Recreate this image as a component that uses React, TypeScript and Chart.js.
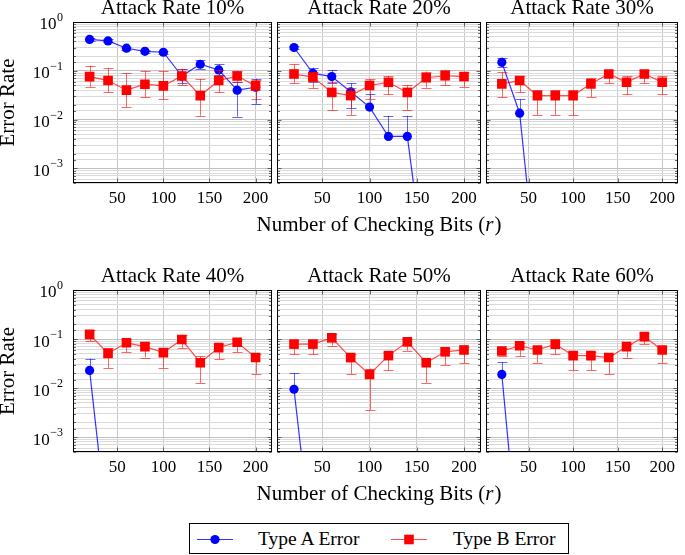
import React, { useEffect, useRef } from 'react';
import { Chart, registerables } from 'chart.js';

Chart.register(...registerables);

// ---------------- data ----------------
const checkingBits = [20, 40, 60, 80, 100, 120, 140, 160, 180, 200];
const panelTitles = ['Attack Rate 10%', 'Attack Rate 20%', 'Attack Rate 30%', 'Attack Rate 40%', 'Attack Rate 50%', 'Attack Rate 60%'];
const xTickValues = [50, 100, 150, 200];
const yLabelExponents = [0, -1, -2, -3];
const seriesNames = ['Type A Error', 'Type B Error'];

// Type A error (blue), with lower / upper error bounds
const typeA10 = [0.44, 0.41, 0.29, 0.25, 0.24, 0.078, 0.136, 0.104, 0.040, 0.046];
const typeA10Lo = [0.41, 0.38, 0.27, 0.23, 0.22, 0.055, 0.11, 0.08, 0.0115, 0.021];
const typeA10Hi = [0.47, 0.44, 0.31, 0.27, 0.26, 0.11, 0.166, 0.136, 0.06, 0.069];

const typeA20 = [0.30, 0.089, 0.076, 0.037, 0.018, 0.0045, 0.0045, 5e-6, 5e-6, 5e-6];
const typeA20Lo = [0.28, 0.06, 0.055, 0.017, null, null, null, null, null, null];
const typeA20Hi = [0.32, 0.116, 0.104, 0.055, 0.033, 0.0119, 0.0119, null, null, null];

const typeA30 = [0.149, 0.0135, 4e-6, 4e-6, 4e-6, 4e-6, 4e-6, 4e-6, 4e-6, 4e-6];
const typeA30Lo = [0.12, null, null, null, null, null, null, null, null, null];
const typeA30Hi = [0.186, 0.026, null, null, null, null, null, null, null, null];

const typeA40 = [0.023, 1e-5, 1e-5, 1e-5, 1e-5, 1e-5, 1e-5, 1e-5, 1e-5, 1e-5];
const typeA40Lo = [null, null, null, null, null, null, null, null, null, null];
const typeA40Hi = [0.040, null, null, null, null, null, null, null, null, null];

const typeA50 = [0.0095, 4e-6, 4e-6, 4e-6, 4e-6, 4e-6, 4e-6, 4e-6, 4e-6, 4e-6];
const typeA50Lo = [null, null, null, null, null, null, null, null, null, null];
const typeA50Hi = [0.020, null, null, null, null, null, null, null, null, null];

const typeA60 = [0.019, 2.5e-6, 2.5e-6, 2.5e-6, 2.5e-6, 2.5e-6, 2.5e-6, 2.5e-6, 2.5e-6, 2.5e-6];
const typeA60Lo = [null, null, null, null, null, null, null, null, null, null];
const typeA60Hi = [0.034, null, null, null, null, null, null, null, null, null];

// Type B error (red)
const typeB10 = [0.076, 0.063, 0.040, 0.053, 0.049, 0.078, 0.031, 0.063, 0.078, 0.049];
const typeB10Lo = [0.047, 0.036, 0.018, 0.029, 0.026, 0.051, 0.012, 0.036, 0.06, 0.026];
const typeB10Hi = [0.127, 0.114, 0.089, 0.10, 0.098, 0.109, 0.068, 0.104, 0.1, 0.065];

const typeB20 = [0.086, 0.074, 0.036, 0.031, 0.050, 0.058, 0.036, 0.072, 0.079, 0.076];
const typeB20Lo = [0.055, 0.044, 0.0158, 0.0124, 0.026, 0.033, 0.0158, 0.045, 0.051, 0.047];
const typeB20Hi = [0.136, 0.096, 0.06, 0.044, 0.067, 0.078, 0.051, 0.096, 0.104, 0.096];

const typeB30 = [0.054, 0.063, 0.031, 0.031, 0.031, 0.054, 0.086, 0.058, 0.086, 0.058];
const typeB30Lo = [0.029, 0.036, 0.0124, 0.0124, 0.0124, 0.029, 0.055, 0.033, 0.055, 0.033];
const typeB30Hi = [0.093, 0.078, 0.04, 0.04, 0.04, 0.07, 0.104, 0.077, 0.104, 0.077];

const typeB40 = [0.125, 0.051, 0.084, 0.070, 0.053, 0.098, 0.033, 0.067, 0.086, 0.042];
const typeB40Lo = [0.091, 0.026, 0.054, 0.042, 0.026, 0.065, 0.0128, 0.039, 0.054, 0.0196];
const typeB40Hi = [0.15, 0.065, 0.1, 0.085, 0.065, 0.12, 0.045, 0.08, 0.1, 0.05];

const typeB50 = [0.079, 0.079, 0.106, 0.042, 0.019, 0.046, 0.088, 0.033, 0.055, 0.060];
const typeB50Lo = [0.049, 0.049, 0.073, 0.0196, 0.0036, 0.023, 0.058, 0.0128, 0.030, 0.033];
const typeB50Hi = [0.095, 0.095, 0.125, 0.05, 0.025, 0.055, 0.1, 0.04, 0.065, 0.07];

const typeB60 = [0.057, 0.073, 0.060, 0.079, 0.046, 0.046, 0.042, 0.070, 0.112, 0.060];
const typeB60Lo = [0.045, 0.045, 0.033, 0.049, 0.023, 0.023, 0.0196, 0.042, 0.078, 0.033];
const typeB60Hi = [0.065, 0.085, 0.07, 0.09, 0.055, 0.055, 0.05, 0.08, 0.13, 0.07];

const panelData = [
  { a: typeA10, aLo: typeA10Lo, aHi: typeA10Hi, b: typeB10, bLo: typeB10Lo, bHi: typeB10Hi },
  { a: typeA20, aLo: typeA20Lo, aHi: typeA20Hi, b: typeB20, bLo: typeB20Lo, bHi: typeB20Hi },
  { a: typeA30, aLo: typeA30Lo, aHi: typeA30Hi, b: typeB30, bLo: typeB30Lo, bHi: typeB30Hi },
  { a: typeA40, aLo: typeA40Lo, aHi: typeA40Hi, b: typeB40, bLo: typeB40Lo, bHi: typeB40Hi },
  { a: typeA50, aLo: typeA50Lo, aHi: typeA50Hi, b: typeB50, bLo: typeB50Lo, bHi: typeB50Hi },
  { a: typeA60, aLo: typeA60Lo, aHi: typeA60Hi, b: typeB60, bLo: typeB60Lo, bHi: typeB60Hi },
];

// ---------------- layout / style ----------------
const COL_LEFT = [73, 277, 481];
const COL_RIGHT = [277, 481, 684];
const ROW_TOP = [22, 290];
const ROW_BOTTOM = [183, 452];
const TOP_SPACE = 22;
const BOTTOM_SPACE = 60;
const Y_AXIS_W = 73;
const MID_EXTRA = 80;
const X_MIN = 2;
const X_MAX = 218;
const Y_MIN = 5e-4;
const Y_MAX = 1;

const SERIF = '"Liberation Serif", "Times New Roman", serif';
const BLUE = '#0000ff';
const RED = '#ff0000';
const BLUE_LINE = 'rgba(0,0,255,0.8)';
const RED_LINE = 'rgba(255,0,0,0.7)';
const BLUE_ERR = 'rgba(0,0,255,0.6)';
const RED_ERR = 'rgba(255,0,0,0.6)';

const isPow10 = (v: number) => {
  const l = Math.log10(v);
  return Math.abs(l - Math.round(l)) < 1e-6;
};

const errorBarPlugin = {
  id: 'errorBars',
  beforeDatasetDraw(chart: any, args: any) {
    const ds = chart.data.datasets[args.index];
    if (!ds.errLow) return;
    const { ctx, chartArea } = chart;
    const xs = chart.scales.x;
    const ys = chart.scales.y;
    ctx.save();
    ctx.beginPath();
    ctx.rect(chartArea.left, chartArea.top, chartArea.right - chartArea.left, chartArea.bottom - chartArea.top);
    ctx.clip();
    ctx.strokeStyle = ds.errColor;
    ctx.lineWidth = 1;
    const capHalf = 5;
    ds.data.forEach((p: any, i: number) => {
      const lo = ds.errLow[i];
      const hi = ds.errHigh[i];
      if (lo == null && hi == null) return;
      const x = Math.round(xs.getPixelForValue(p.x)) + 0.5;
      const yv = ys.getPixelForValue(p.y);
      const yl = lo != null ? ys.getPixelForValue(lo) : yv;
      const yh = hi != null ? ys.getPixelForValue(hi) : yv;
      ctx.beginPath();
      ctx.moveTo(x, yl);
      ctx.lineTo(x, yh);
      if (lo != null) {
        const y = Math.round(yl) + 0.5;
        ctx.moveTo(x - capHalf, y);
        ctx.lineTo(x + capHalf, y);
      }
      if (hi != null) {
        const y = Math.round(yh) + 0.5;
        ctx.moveTo(x - capHalf, y);
        ctx.lineTo(x + capHalf, y);
      }
      ctx.stroke();
    });
    ctx.restore();
  },
};

const framePlugin = {
  id: 'frame',
  afterDatasetsDraw(chart: any) {
    const { ctx, chartArea } = chart;
    const ys = chart.scales.y;
    const xs = chart.scales.x;
    const l = Math.round(chartArea.left) + 0.5;
    const r = Math.round(chartArea.right) - 0.5;
    const t = Math.round(chartArea.top) + 0.5;
    const b = Math.round(chartArea.bottom) - 0.5;
    ctx.save();
    ctx.strokeStyle = '#444';
    ctx.lineWidth = 0.8;
    ctx.beginPath();
    ys.ticks.forEach((tk: any) => {
      const y = Math.round(ys.getPixelForValue(tk.value)) + 0.5;
      const len = isPow10(tk.value) ? 4 : 2.5;
      ctx.moveTo(l, y);
      ctx.lineTo(l + len, y);
      ctx.moveTo(r, y);
      ctx.lineTo(r - len, y);
    });
    xs.ticks.forEach((tk: any) => {
      const x = Math.round(xs.getPixelForValue(tk.value)) + 0.5;
      ctx.moveTo(x, b);
      ctx.lineTo(x, b - 4);
      ctx.moveTo(x, t);
      ctx.lineTo(x, t + 4);
    });
    ctx.stroke();
    ctx.strokeStyle = '#000';
    ctx.lineWidth = 1;
    ctx.strokeRect(l, t, r - l, b - t);
    ctx.restore();
  },
};

const textPlugin = {
  id: 'panelText',
  afterDraw(chart: any) {
    const opts = chart.options.plugins.panelText || {};
    const { ctx, chartArea } = chart;
    const cx = (chartArea.left + chartArea.right) / 2;
    ctx.save();
    ctx.fillStyle = '#000';
    ctx.textBaseline = 'middle';

    // panel title
    ctx.font = `21px ${SERIF}`;
    ctx.textAlign = 'center';
    ctx.fillText(opts.title, cx, chartArea.top - 14);

    // y tick labels (10^k)
    if (opts.yLabels) {
      const ys = chart.scales.y;
      const right = chartArea.left - 10;
      yLabelExponents.forEach((e) => {
        const y = ys.getPixelForValue(Math.pow(10, e));
        const expText = e === 0 ? '0' : '\u2212' + String(-e);
        ctx.font = `12px ${SERIF}`;
        const ew = ctx.measureText(expText).width;
        ctx.textAlign = 'left';
        ctx.fillText(expText, right - ew, y - 4);
        ctx.font = `17px ${SERIF}`;
        ctx.textAlign = 'right';
        ctx.fillText('10', right - ew - 0.5, y + 3);
      });
    }

    // shared x axis label
    if (opts.xLabel) {
      const y = chartArea.bottom + 42;
      const p1 = 'Number of Checking Bits (';
      const p2 = 'r';
      const p3 = ')';
      const normal = `21px ${SERIF}`;
      const italic = `italic 21px ${SERIF}`;
      ctx.textAlign = 'left';
      ctx.font = normal;
      const w1 = ctx.measureText(p1).width;
      const w3 = ctx.measureText(p3).width;
      ctx.font = italic;
      const w2 = ctx.measureText(p2).width;
      let x = cx - (w1 + w2 + w3 + 1) / 2;
      ctx.font = normal;
      ctx.fillText(p1, x, y);
      x += w1;
      ctx.font = italic;
      ctx.fillText(p2, x, y);
      x += w2 + 1;
      ctx.font = normal;
      ctx.fillText(p3, x, y);
    }
    ctx.restore();
  },
};

function Panel({ index }: { index: number }) {
  const ref = useRef<HTMLCanvasElement>(null);
  const col = index % 3;
  const row = Math.floor(index / 3);
  const extra = col === 1 ? MID_EXTRA : 0;
  const padL = (col === 0 ? 0 : 2) + extra;
  const padR = (col === 2 ? 1 : 2) + extra;
  const yW = col === 0 ? Y_AXIS_W : 0;
  const left = COL_LEFT[col] - yW - padL;
  const width = padL + yW + (COL_RIGHT[col] - COL_LEFT[col]) + padR;
  const top = ROW_TOP[row] - TOP_SPACE;
  const height = TOP_SPACE + (ROW_BOTTOM[row] - ROW_TOP[row]) + BOTTOM_SPACE;

  useEffect(() => {
    if (!ref.current) return;
    const d = panelData[index];
    const chart = new Chart(ref.current, {
      type: 'line',
      data: {
        datasets: [
          {
            label: seriesNames[1],
            data: checkingBits.map((x, i) => ({ x, y: d.b[i] })),
            borderColor: RED_LINE,
            borderWidth: 1.2,
            backgroundColor: RED,
            pointBackgroundColor: RED,
            pointBorderColor: RED,
            pointBorderWidth: 0,
            pointStyle: 'rect',
            pointRadius: 6.8,
            tension: 0,
            fill: false,
            errLow: d.bLo,
            errHigh: d.bHi,
            errColor: RED_ERR,
          } as any,
          {
            label: seriesNames[0],
            data: checkingBits.map((x, i) => ({ x, y: d.a[i] })),
            borderColor: BLUE_LINE,
            borderWidth: 1.2,
            backgroundColor: BLUE,
            pointBackgroundColor: BLUE,
            pointBorderColor: BLUE,
            pointBorderWidth: 0,
            pointStyle: 'circle',
            pointRadius: 4.6,
            tension: 0,
            fill: false,
            errLow: d.aLo,
            errHigh: d.aHi,
            errColor: BLUE_ERR,
          } as any,
        ],
      },
      options: {
        animation: false,
        responsive: false,
        maintainAspectRatio: false,
        events: [],
        layout: { padding: { left: padL, right: padR, top: TOP_SPACE, bottom: 0 } },
        plugins: {
          legend: { display: false },
          tooltip: { enabled: false },
          title: { display: false },
          panelText: { title: panelTitles[index], yLabels: col === 0, xLabel: col === 1 },
        } as any,
        scales: {
          x: {
            type: 'linear',
            min: X_MIN,
            max: X_MAX,
            afterBuildTicks: (s: any) => {
              s.ticks = xTickValues.map((v) => ({ value: v }));
            },
            afterFit: (s: any) => {
              s.height = BOTTOM_SPACE;
            },
            grid: { color: '#c8c8c8', lineWidth: 1, drawTicks: false },
            border: { display: false },
            ticks: {
              color: '#000',
              font: { family: SERIF, size: 17 },
              padding: 5,
              maxRotation: 0,
              autoSkip: false,
              callback: (v: any) => String(v),
            },
          },
          y: {
            type: 'logarithmic',
            min: Y_MIN,
            max: Y_MAX,
            afterFit: (s: any) => {
              s.width = yW;
            },
            grid: {
              color: (c: any) => (c.tick && isPow10(c.tick.value) ? '#c0c0c0' : '#dadada'),
              lineWidth: 1,
              drawTicks: false,
            },
            border: { display: false },
            ticks: { display: false, autoSkip: false },
            title: {
              display: col === 0,
              text: 'Error Rate',
              color: '#000',
              font: { family: SERIF, size: 21, lineHeight: 0.85 },
              padding: 0,
            },
          },
        },
      },
      plugins: [errorBarPlugin, framePlugin, textPlugin],
    });
    return () => chart.destroy();
  }, [index]);

  return (
    <canvas
      ref={ref}
      width={width}
      height={height}
      style={{ position: 'absolute', left, top, width, height }}
    />
  );
}

function Legend() {
  const textStyle: React.CSSProperties = {
    position: 'absolute',
    top: 0,
    height: 29,
    lineHeight: '29px',
    fontFamily: SERIF,
    fontSize: 19.5,
    color: '#000',
    whiteSpace: 'nowrap',
  };
  return (
    <div
      style={{
        position: 'absolute',
        left: 189,
        top: 523,
        width: 380,
        height: 31,
        border: '1px solid #000',
        boxSizing: 'border-box',
        background: '#fff',
      }}
    >
      <svg width={38} height={29} style={{ position: 'absolute', left: 6, top: 0 }}>
        <line x1={1} y1={15.5} x2={37} y2={15.5} stroke={BLUE_LINE} strokeWidth={1.2} />
        <circle cx={19} cy={15.5} r={4.6} fill={BLUE} />
      </svg>
      <span style={{ ...textStyle, left: 68 }}>{seriesNames[0]}</span>
      <svg width={38} height={29} style={{ position: 'absolute', left: 200, top: 0 }}>
        <line x1={1} y1={15.5} x2={37} y2={15.5} stroke={RED_LINE} strokeWidth={1.2} />
        <rect x={14.2} y={10.7} width={9.6} height={9.6} fill={RED} />
      </svg>
      <span style={{ ...textStyle, left: 263 }}>{seriesNames[1]}</span>
    </div>
  );
}

export default function App() {
  return (
    <div style={{ position: 'absolute', left: 0, top: 0, width: 685, height: 555, background: '#fff', overflow: 'hidden' }}>
      {[0, 1, 2, 3, 4, 5].map((i) => (
        <Panel key={i} index={i} />
      ))}
      <Legend />
    </div>
  );
}
